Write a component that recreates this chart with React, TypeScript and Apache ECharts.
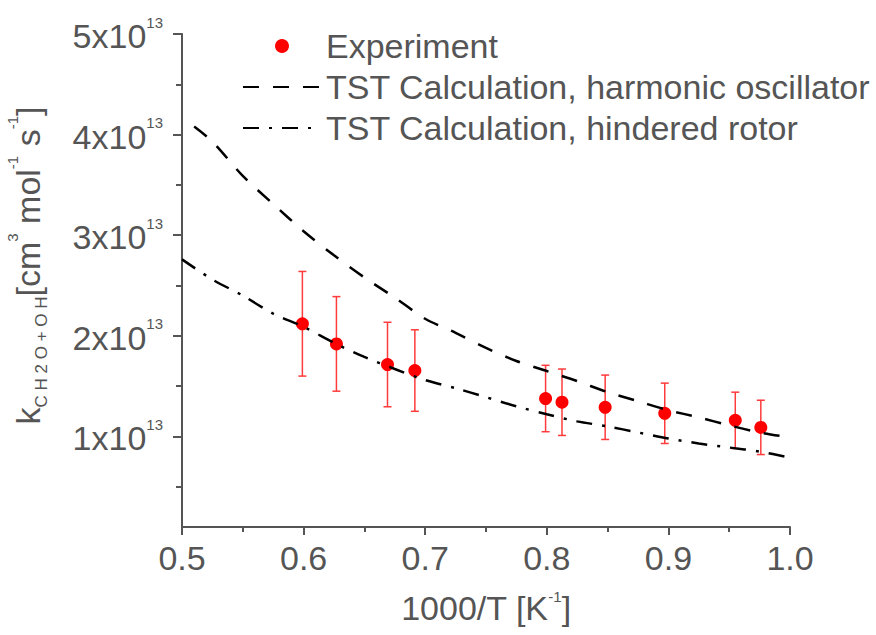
import React, { useEffect, useRef } from "react";
import * as echarts from "echarts";

// Experimental points: 1000/T [1/K], k [1e13 cm^3 mol^-1 s^-1], error (+/-)
const expX = [0.599, 0.627, 0.669, 0.6915, 0.799, 0.8125, 0.848, 0.897, 0.955, 0.976];
const expY = [2.12, 1.92, 1.715, 1.655, 1.377, 1.34, 1.29, 1.23, 1.16, 1.09];
const expErr = [0.52, 0.47, 0.42, 0.405, 0.33, 0.33, 0.32, 0.3, 0.28, 0.27];

// TST Calculation, harmonic oscillator
const hoX = [0.51, 0.525, 0.55, 0.575, 0.6, 0.625, 0.65, 0.675, 0.7, 0.725, 0.75, 0.775, 0.8, 0.825, 0.85, 0.875, 0.9, 0.925, 0.95, 0.975, 1.0];
const hoY = [4.08, 3.93, 3.59, 3.31, 3.04, 2.8, 2.58, 2.38, 2.17, 2.03, 1.88, 1.75, 1.65, 1.55, 1.44, 1.35, 1.26, 1.19, 1.11, 1.04, 0.99];

// TST Calculation, hindered rotor
const hrX = [0.5, 0.525, 0.55, 0.575, 0.6, 0.625, 0.65, 0.675, 0.7, 0.725, 0.75, 0.775, 0.8, 0.825, 0.85, 0.875, 0.9, 0.925, 0.95, 0.975, 1.0];
const hrY = [2.76, 2.56, 2.4, 2.22, 2.09, 1.93, 1.79, 1.67, 1.56, 1.48, 1.39, 1.3, 1.22, 1.15, 1.1, 1.04, 0.98, 0.93, 0.89, 0.85, 0.79];

const yMajorTicks = [1, 2, 3, 4, 5];
const yMinorTicks = [0.5, 1.5, 2.5, 3.5, 4.5];
const yExponent = "13";

const seriesNames = [
  "Experiment",
  "TST Calculation, harmonic oscillator",
  "TST Calculation, hindered rotor",
];

const FONT = "'Liberation Sans', Arial, sans-serif";
const TEXT = "#555";
const AXIS = "#555";

export default function App() {
  const ref = useRef<HTMLDivElement>(null);

  useEffect(() => {
    if (!ref.current) return;
    const chart = echarts.init(ref.current, null, { renderer: "svg" });

    const expData = expX.map((x, i) => [x, expY[i]]);
    const errData = expX.map((x, i) => [x, expY[i], expErr[i]]);
    const hoData = hoX.map((x, i) => [x, hoY[i]]);
    const hrData = hrX.map((x, i) => [x, hrY[i]]);

    const hideSym = { color: "transparent", borderColor: "transparent", borderWidth: 0 };

    chart.setOption({
      animation: false,
      backgroundColor: "#fff",
      textStyle: { fontFamily: FONT },
      grid: { left: 182, right: 86, top: 34, bottom: 108, outerBoundsMode: "none" },
      legend: {
        orient: "vertical",
        left: 237,
        top: 24,
        itemWidth: 78,
        itemHeight: 14,
        itemGap: 7,
        data: [
          { name: seriesNames[0] },
          { name: seriesNames[1], itemStyle: hideSym },
          { name: seriesNames[2], itemStyle: hideSym },
        ],
        textStyle: { fontSize: 34, color: TEXT, fontFamily: FONT },
      },
      xAxis: {
        type: "value",
        min: 0.5,
        max: 1.0,
        interval: 0.1,
        name: "{m|1000/T [K}{s|-1}{m|]}",
        nameLocation: "middle",
        nameGap: 62,
        nameTextStyle: {
          rich: {
            m: { fontSize: 34, color: TEXT, fontFamily: FONT },
            s: { fontSize: 15, color: TEXT, fontFamily: FONT, verticalAlign: "middle", padding: [0, 0, 22, 0] },
          },
        },
        axisLine: { show: true, lineStyle: { color: AXIS, width: 2 } },
        axisTick: { show: true, length: 8, lineStyle: { color: AXIS, width: 2 } },
        minorTick: { show: true, splitNumber: 2, length: 5, lineStyle: { color: AXIS, width: 2 } },
        axisLabel: {
          fontSize: 34,
          color: TEXT,
          fontFamily: FONT,
          margin: 14,
          formatter: (v: number) => v.toFixed(1),
        },
        splitLine: { show: false },
      },
      yAxis: [
        {
          type: "value",
          min: 0.1,
          max: 5,
          position: "left",
          name:
            "{m|k}{sub|C H 2 O + O H}{m|[cm}{sup|3}{m| mol}{sup|-1}{m| s}{sup|-1}{m|]}",
          nameLocation: "middle",
          nameRotate: 90,
          nameGap: 132,
          nameTextStyle: {
            padding: [0, 0, 0, 30],
            rich: {
              m: { fontSize: 34, color: TEXT, fontFamily: FONT },
              sub: { fontSize: 17, color: TEXT, fontFamily: FONT, verticalAlign: "bottom" },
              sup: { fontSize: 15, color: TEXT, fontFamily: FONT, verticalAlign: "middle", padding: [0, 0, 30, 0] },
            },
          },
          axisLine: { show: true, lineStyle: { color: AXIS, width: 2 } },
          axisTick: {
            show: true,
            length: 9,
            customValues: yMajorTicks,
            lineStyle: { color: AXIS, width: 2 },
          },
          axisLabel: {
            margin: 19,
            customValues: yMajorTicks,
            formatter: (v: number) => `{m|${Math.round(v)}x10}{s|${yExponent}}`,
            rich: {
              m: { fontSize: 34, color: TEXT, fontFamily: FONT, padding: [4, 0, 0, 0] },
              s: { fontSize: 15, color: TEXT, fontFamily: FONT, verticalAlign: "middle", padding: [0, 0, 24, 0] },
            },
          },
          splitLine: { show: false },
        },
        {
          type: "value",
          min: 0.1,
          max: 5,
          position: "left",
          axisLine: { show: false },
          axisTick: {
            show: true,
            length: 6,
            customValues: yMinorTicks,
            lineStyle: { color: AXIS, width: 2 },
          },
          axisLabel: { show: false },
          splitLine: { show: false },
        },
      ],
      series: [
        {
          type: "custom",
          name: "errors",
          xAxisIndex: 0,
          yAxisIndex: 0,
          z: 2,
          data: errData,
          renderItem: (params: any, api: any) => {
            const x = api.value(0);
            const y = api.value(1);
            const e = api.value(2);
            const top = api.coord([x, y + e]);
            const bot = api.coord([x, y - e]);
            const hw = 4;
            const st = { stroke: "#ff3b3b", lineWidth: 1.5 };
            return {
              type: "group",
              children: [
                { type: "line", shape: { x1: top[0], y1: top[1], x2: bot[0], y2: bot[1] }, style: st },
                { type: "line", shape: { x1: top[0] - hw, y1: top[1], x2: top[0] + hw, y2: top[1] }, style: st },
                { type: "line", shape: { x1: bot[0] - hw, y1: bot[1], x2: bot[0] + hw, y2: bot[1] }, style: st },
              ],
            };
          },
        },
        {
          type: "scatter",
          name: seriesNames[0],
          z: 3,
          symbol: "circle",
          symbolSize: 13,
          itemStyle: { color: "#ff0000", opacity: 1 },
          data: expData,
        },
        {
          type: "line",
          name: seriesNames[1],
          z: 4,
          symbol: "none",
          smooth: 0.3,
          lineStyle: { color: "#000", width: 2.5, type: [16, 14] },
          itemStyle: { color: "#000" },
          data: hoData,
        },
        {
          type: "line",
          name: seriesNames[2],
          z: 4,
          symbol: "none",
          smooth: 0.3,
          lineStyle: { color: "#000", width: 2.5, type: [16, 10, 3, 10] },
          itemStyle: { color: "#000" },
          data: hrData,
        },
      ],
    });

    return () => chart.dispose();
  }, []);

  return (
    <div
      ref={ref}
      style={{ position: "absolute", left: 0, top: 0, width: 876, height: 635 }}
    />
  );
}
